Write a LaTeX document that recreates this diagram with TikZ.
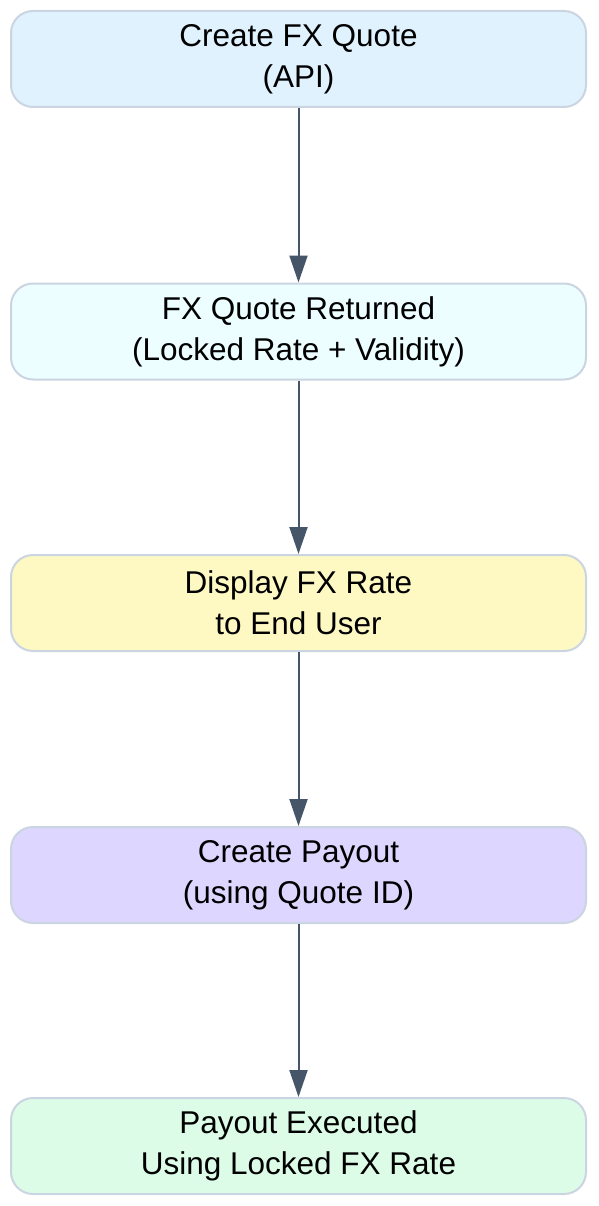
\documentclass[tikz,border=0pt]{standalone}
\usepackage{fontspec}
\setmainfont{Liberation Sans}
\usetikzlibrary{shapes,arrows.meta}

\definecolor{boxline}{HTML}{CBD5E1}
\definecolor{arrowcol}{HTML}{475569}
\definecolor{quoteblue}{HTML}{E0F2FE}
\definecolor{returncyan}{HTML}{ECFEFF}
\definecolor{displayyellow}{HTML}{FEF9C3}
\definecolor{payoutviolet}{HTML}{DDD6FE}
\definecolor{donegreen}{HTML}{DCFCE7}

\begin{document}
\begin{tikzpicture}[x=1pt,y=-1pt,
		flowbox/.style={draw=boxline, line width=2pt, rounded corners=22pt,
			minimum width=575pt, minimum height=96pt, inner sep=0pt,
			align=center, font=\fontsize{31.5}{41}\selectfont},
		flowarrow/.style={draw=arrowcol, line width=2pt,
			-{Triangle[length=27pt,width=18pt]}}]
		\useasboundingbox (0,0) rectangle (598,1206);
		
		\node[flowbox, fill=quoteblue]     (quote)    at (298.5,59)   {Create FX Quote\\(API)};
		\node[flowbox, fill=returncyan]    (returned) at (298.5,331.5) {FX Quote Returned\\(Locked Rate + Validity)};
		\node[flowbox, fill=displayyellow] (display)  at (298.5,603)  {Display FX Rate\\to End User};
		\node[flowbox, fill=payoutviolet]  (payout)   at (298.5,875)  {Create Payout\\(using Quote ID)};
		\node[flowbox, fill=donegreen]     (executed) at (298.5,1146) {Payout Executed\\Using Locked FX Rate};
		
		\draw[flowarrow] (quote) -- (returned);
		\draw[flowarrow] (returned) -- (display);
		\draw[flowarrow] (display) -- (payout);
		\draw[flowarrow] (payout) -- (executed);
	\end{tikzpicture}
\end{document}
